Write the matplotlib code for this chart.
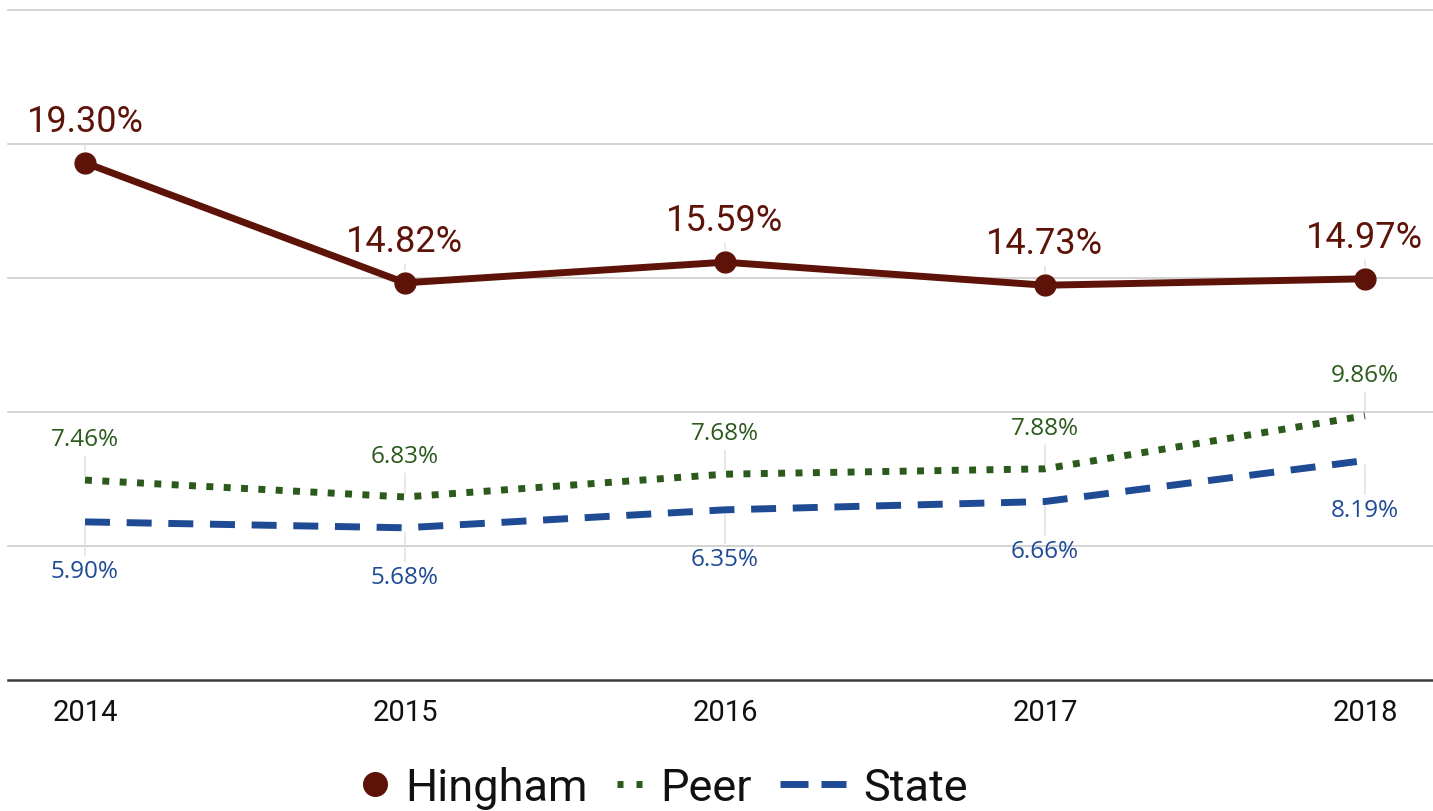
import matplotlib
matplotlib.use("Agg")
import matplotlib.pyplot as plt
from matplotlib.lines import Line2D

plt.rcParams['font.family'] = ['Roboto', 'DejaVu Sans']

# data
years = [2014, 2015, 2016, 2017, 2018]
hingham = [19.30, 14.82, 15.59, 14.73, 14.97]
peer = [7.46, 6.83, 7.68, 7.88, 9.86]
state = [5.90, 5.68, 6.35, 6.66, 8.19]
series_names = ['Hingham', 'Peer', 'State']

c_hingham = '#5e1308'
c_peer = '#2b5a1c'
c_state = '#1f4b94'
c_leader = '#dedede'

W, H = 1433, 811
fig = plt.figure(figsize=(W / 100, H / 100), dpi=100)
ax = fig.add_axes([8 / W, 131 / H, (W - 8) / W, 670 / H])

x0 = years[0] - 77 / 320
ax.set_xlim(x0, x0 + (W - 8) / 320)
ax.set_ylim(0, 25)

for g in [5, 10, 15, 20, 25]:
    ax.axhline(g, color='#cccccc', lw=1.2, zorder=0, clip_on=False)
ax.axhline(0, color='#3c3c3c', lw=1.8, zorder=0, clip_on=False)

ax.plot(years, hingham, color=c_hingham, lw=5, marker='o', markersize=15,
        zorder=4, solid_capstyle='round')
ax.plot(years, peer, color=c_peer, lw=5, linestyle=(0, (1, 1.5)),
        dash_capstyle='butt', zorder=3)
ax.plot(years, state, color=c_state, lw=5, linestyle=(0, (3.6, 2.4)),
        dash_capstyle='butt', zorder=3)


def label(x, y, txt, dy, color, size, family, shrink_b):
    ax.annotate(txt, xy=(x, y), xytext=(0, dy), textcoords='offset pixels',
                ha='center', va='baseline', color=color, fontsize=size,
                family=family, zorder=1,
                arrowprops=dict(arrowstyle='-', color=c_leader, lw=1,
                                shrinkA=1, shrinkB=shrink_b))


for x, v in zip(years, hingham):
    label(x, v, f'{v:.2f}%', 31, c_hingham, 26, ['Roboto', 'DejaVu Sans'], 9)
for x, v in zip(years, peer):
    label(x, v, f'{v:.2f}%', 34, c_peer, 17.5, ['Open Sans', 'DejaVu Sans'], 3)
for x, v in zip(years, state):
    label(x, v, f'{v:.2f}%', -56, c_state, 17.5, ['Open Sans', 'DejaVu Sans'], 3)

for s in ax.spines.values():
    s.set_visible(False)
ax.set_yticks([])
ax.set_xticks(years)
ax.set_xticklabels([str(y) for y in years])
ax.tick_params(axis='x', length=0, pad=14, labelsize=21, labelcolor='#111111')


# legend, laid out by hand in figure pixels
def fx(px):
    return px / W


def fy(py):
    return 1 - py / H


ly = 784      # swatch centre line
lb = 801      # text baseline
fig.add_artist(Line2D([fx(375)], [fy(ly)], transform=fig.transFigure,
                      color=c_hingham, marker='o', markersize=17, lw=0))
for a, b in [(617, 623), (636, 642)]:
    fig.add_artist(Line2D([fx(a), fx(b)], [fy(ly), fy(ly)],
                          transform=fig.transFigure, color=c_peer, lw=5,
                          solid_capstyle='butt'))
for a, b in [(780, 808), (821, 846)]:
    fig.add_artist(Line2D([fx(a), fx(b)], [fy(ly), fy(ly)],
                          transform=fig.transFigure, color=c_state, lw=5,
                          solid_capstyle='butt'))
for name, px in zip(series_names, [405, 660, 863]):
    fig.text(fx(px), fy(lb), name, fontsize=32.5, color='#111111',
             ha='left', va='baseline')

fig.savefig('out.png', dpi=100)
